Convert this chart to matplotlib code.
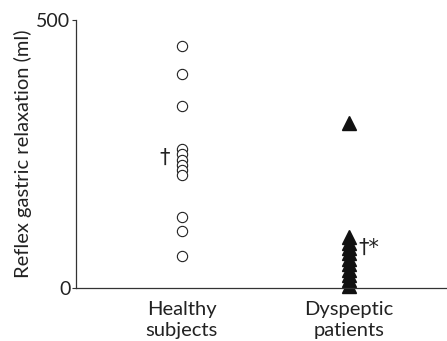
import matplotlib
matplotlib.use("Agg")
import matplotlib.pyplot as plt

groups = ["Healthy\nsubjects", "Dyspeptic\npatients"]
healthy = [452, 400, 340, 260, 250, 240, 230, 220, 211, 132, 107, 61]
dyspeptic = [308, 95, 85, 75, 65, 55, 45, 35, 25, 15, 5]
yticks = [0, 500]

plt.rcParams['font.family'] = ['Lato', 'DejaVu Sans']
txt = '#222222'

fig = plt.figure(figsize=(4.47, 3.41), dpi=100)
ax = fig.add_axes([0.170, 0.1545, 0.830, 0.7868])

ax.plot([1] * len(healthy), healthy, 'o', ms=7.4, mfc='white', mec='#222222', mew=0.8, clip_on=False)
ax.plot([2] * len(dyspeptic), dyspeptic, '^', ms=9.8, mfc='#111111', mec='#111111', clip_on=False)

ax.text(0.90, 243, '†', ha='center', va='center', fontsize=15, color=txt, family='DejaVu Sans')
ax.text(2.12, 76, '†*', ha='center', va='center', fontsize=15, color=txt, family='DejaVu Sans')

ax.set_xlim(0.367, 2.589)
ax.set_ylim(0, 500)
ax.set_xticks([1, 2])
ax.set_xticklabels(groups, fontsize=14.5, color=txt, linespacing=1.3)
ax.set_yticks(yticks)
ax.set_yticklabels([str(v) for v in yticks], fontsize=14, color=txt)
ax.tick_params(axis='x', length=0, pad=9)
ax.tick_params(axis='y', length=3, width=0.8, pad=1, color='#333333')
ax.set_ylabel('Reflex gastric relaxation (ml)', fontsize=14.5, color=txt, labelpad=3)

for s in ['top', 'right']:
    ax.spines[s].set_visible(False)
for s in ['left', 'bottom']:
    ax.spines[s].set_linewidth(0.9)
    ax.spines[s].set_color('#333333')

fig.savefig('out.png', dpi=100)
